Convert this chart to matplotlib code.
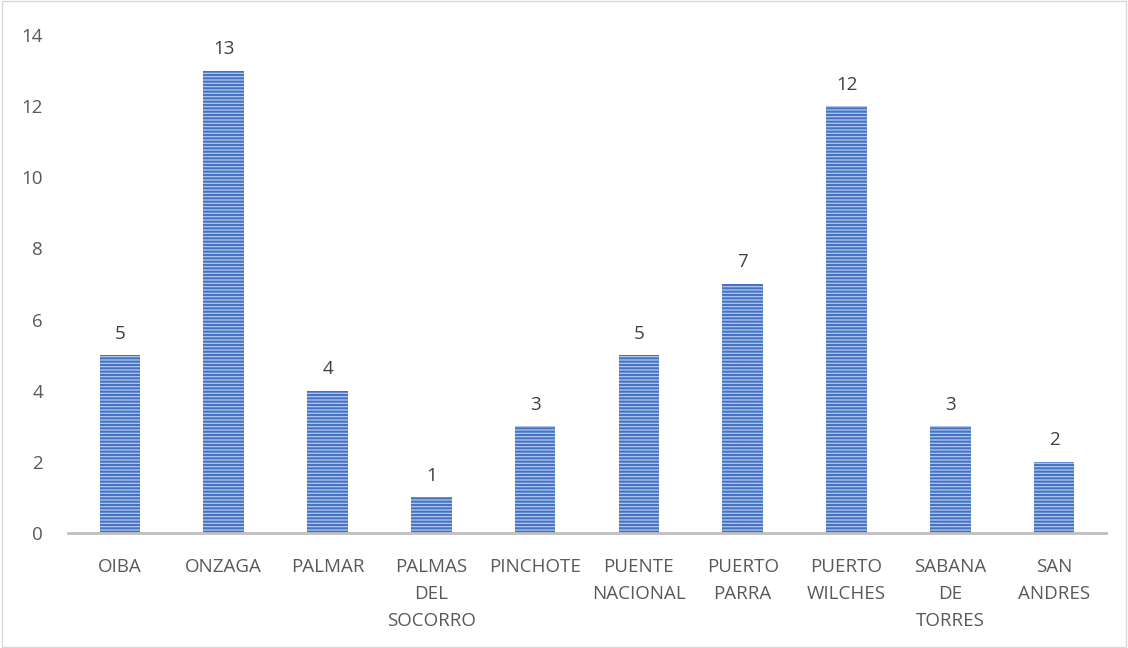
import matplotlib
matplotlib.use("Agg")
import matplotlib.pyplot as plt
from matplotlib.patches import Rectangle

categories = ["OIBA", "ONZAGA", "PALMAR", "PALMAS\nDEL\nSOCORRO", "PINCHOTE",
              "PUENTE\nNACIONAL", "PUERTO\nPARRA", "PUERTO\nWILCHES", "SABANA\nDE\nTORRES", "SAN\nANDRES"]
values = [5, 13, 4, 1, 3, 5, 7, 12, 3, 2]
yticks = [0, 2, 4, 6, 8, 10, 12, 14]

plt.rcParams['font.family'] = ['Open Sans', 'DejaVu Sans']
plt.rcParams['hatch.linewidth'] = 1.5

fig = plt.figure(figsize=(11.28, 6.48), dpi=100)
ax = fig.add_axes([0.0603, 0.1775, 0.9202, 0.7685])

x = list(range(len(categories)))
ax.bar(x, values, width=0.39, color='#B4C7EA', edgecolor='#4472C4', linewidth=0,
       hatch='-----', zorder=2)

for xi, v in zip(x, values):
    ax.annotate(str(v), (xi, v), xytext=(0, 9), textcoords='offset points',
                ha='center', va='bottom', fontsize=13.5, color='#404040')

ax.set_xlim(-0.5, len(categories) - 0.5)
ax.set_ylim(0, 14)
ax.set_yticks(yticks)
ax.set_xticks(x)
ax.set_xticklabels(categories, fontsize=13.5, color='#595959', linespacing=1.65)
ax.tick_params(axis='y', labelsize=13.5, labelcolor='#595959', length=0, pad=18)
ax.tick_params(axis='x', length=0, pad=18)
for s in ['top', 'right', 'left']:
    ax.spines[s].set_visible(False)
ax.spines['bottom'].set_color('#BFBFBF')
ax.spines['bottom'].set_linewidth(2)

fig.patches.append(Rectangle((0.002, 0.002), 0.996, 0.996, transform=fig.transFigure,
                             fill=False, edgecolor='#D9D9D9', linewidth=1))

fig.savefig("out.png", dpi=100)
